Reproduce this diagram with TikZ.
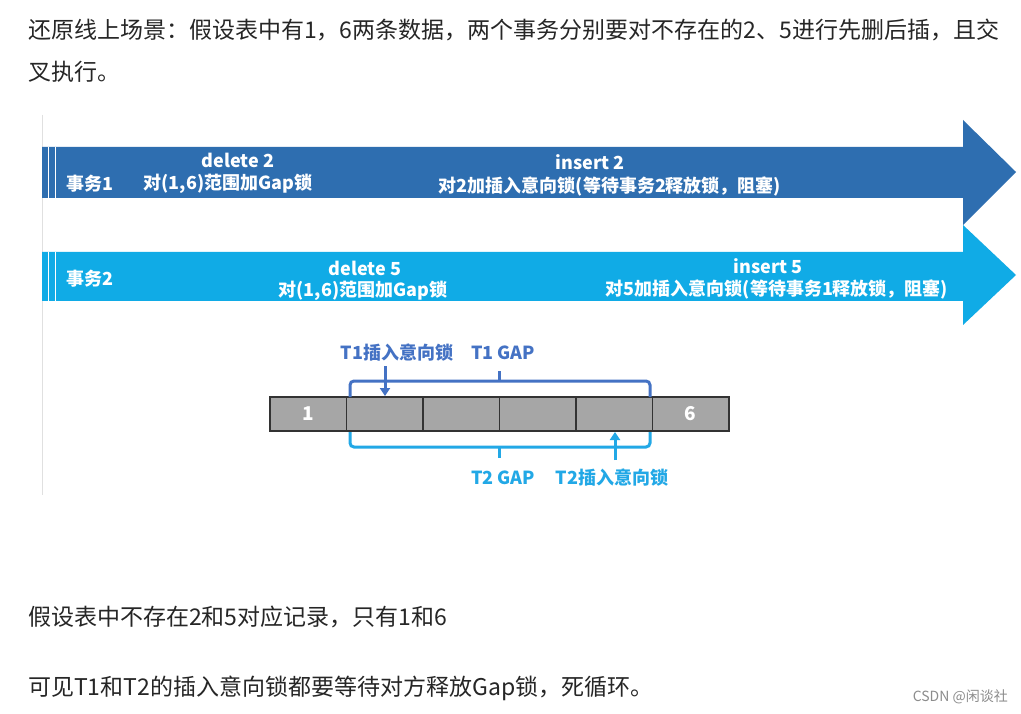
\documentclass[tikz,border=0pt]{standalone}
\usepackage{fontspec}
\setmainfont{Noto Sans CJK SC}
\usetikzlibrary{arrows.meta}
\definecolor{tdark}{HTML}{2E6EB0}
\definecolor{tlight}{HTML}{10ABE6}
\definecolor{bdark}{HTML}{4472C4}
\definecolor{blight}{HTML}{22A8E6}
\definecolor{cellgray}{HTML}{A6A6A6}
\tikzset{
  para/.style={anchor=west, inner sep=0pt, font=\fontsize{23}{26}\selectfont, text=black!85},
  band/.style={text=white, inner sep=0pt, font=\bfseries\fontsize{18}{20}\selectfont},
  cell/.style={draw=black!80, line width=1.2pt, fill=cellgray, minimum width=76.5pt, minimum height=34pt, inner sep=0pt, text=white, font=\bfseries\fontsize{19}{20}\selectfont},
  lbl/.style={inner sep=0pt, font=\bfseries\fontsize{18}{20}\selectfont},
}
\begin{document}
\begin{tikzpicture}[x=1pt, y=-1pt]
\useasboundingbox (0,0) rectangle (1021,714);
\fill[white] (0,0) rectangle (1021,714);
% text above
\node[para] (p1) at (28,30) {还原线上场景：假设表中有1，6两条数据，两个事务分别要对不存在的2、5进行先删后插，且交};
\node[para] (p2) at (28,72) {叉执行。};
% picture
\draw[black!12] (42,115) -- (42,495);
\fill[tdark] (42,147) -- (963,147) -- (963,120) -- (1016,172) -- (963,225) -- (963,198) -- (42,198) -- cycle;
\fill[tlight] (42,252) -- (963,252) -- (963,225) -- (1016,275) -- (963,325) -- (963,301) -- (42,301) -- cycle;
\foreach \x in {48,55} {
  \draw[white, line width=1pt] (\x,147) -- (\x,198);
  \draw[white, line width=1pt] (\x,252) -- (\x,301);
}
\node[band] (t1) at (90,184) {事务1};
\node[band] (d2) at (238,160) {delete 2};
\node[band] (g1) at (228,184) {对(1,6)范围加Gap锁};
\node[band] (i2) at (590,162) {insert 2};
\node[band] (w1) at (610,186) {对2加插入意向锁(等待事务2释放锁，阻塞)};
\node[band] (t2) at (90,279) {事务2};
\node[band] (d5) at (365,268) {delete 5};
\node[band] (g2) at (363,291) {对(1,6)范围加Gap锁};
\node[band] (i5) at (768,266) {insert 5};
\node[band] (w2) at (777,289) {对5加插入意向锁(等待事务1释放锁，阻塞)};
% records
\foreach \i/\t in {0/1,1/,2/,3/,4/,5/6}
  \node[cell] (c\i) at (308.25+76.5*\i,414) {\t};
% brackets
\draw[bdark, line width=3pt, rounded corners=4pt] (350,397) -- (350,381) -- (650,381) -- (650,397);
\draw[bdark, line width=3pt] (499,381) -- (499,371);
\draw[bdark, line width=3pt, -{Triangle[length=8pt,width=10pt]}] (385,366) -- (385,396);
\draw[blight, line width=3pt, rounded corners=4pt] (350,432) -- (350,447) -- (650,447) -- (650,432);
\draw[blight, line width=3pt] (499,447) -- (499,458);
\draw[blight, line width=3pt, -{Triangle[length=8pt,width=10pt]}] (615,460) -- (615,432);
\node[lbl, text=bdark] (a1) at (397,353) {T1插入意向锁};
\node[lbl, text=bdark] (a2) at (503,353) {T1 GAP};
\node[lbl, text=blight] (b1) at (503,478) {T2 GAP};
\node[lbl, text=blight] (b2) at (612,478) {T2插入意向锁};
% text below
\node[para] (p3) at (28,617) {假设表中不存在2和5对应记录，只有1和6};
\node[para] (p4) at (28,688) {可见T1和T2的插入意向锁都要等待对方释放Gap锁，死循环。};
\node[anchor=east, inner sep=0pt, text=black!45, font=\fontsize{14}{16}\selectfont] (wm) at (1008,697) {CSDN @闲谈社};
\end{tikzpicture}
\end{document}
